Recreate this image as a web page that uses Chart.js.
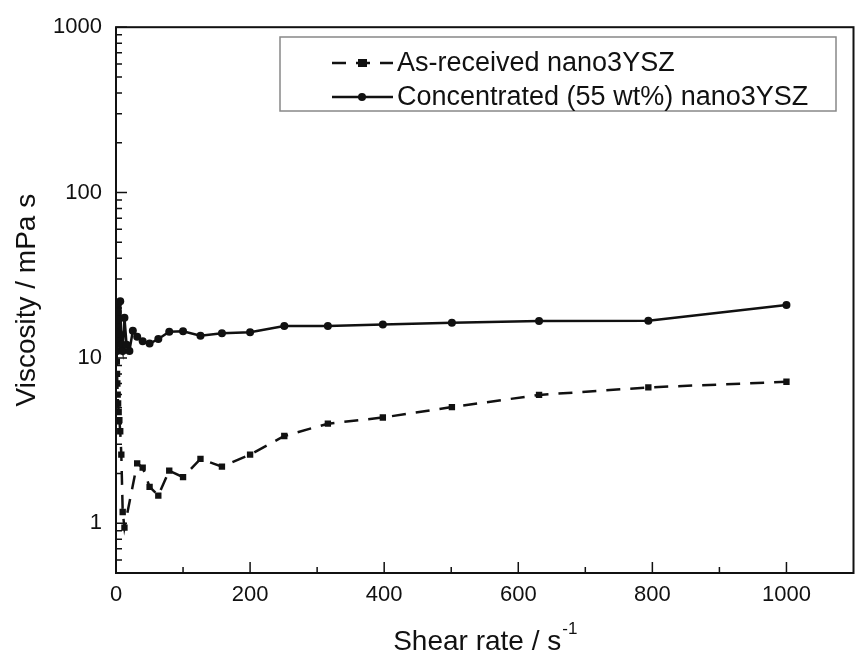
<!DOCTYPE html>
<html>
<head>
<meta charset="utf-8">
<script src="https://cdn.jsdelivr.net/npm/chart.js@4.4.1/dist/chart.umd.min.js"></script>
<style>
  html, body { margin: 0; padding: 0; background: #fff; }
  #wrap { width: 858px; height: 657px; }
</style>
</head>
<body>
<div id="wrap"><canvas id="canvas" width="858" height="657"></canvas></div>
<script>
// shear rate points (s^-1)
const shearRate = [1, 1.26, 1.58, 2, 2.51, 3.16, 3.98, 5.01, 6.31, 7.94, 10, 12.6, 15.8, 20, 25.1, 31.6,
  39.8, 50.1, 63.1, 79.4, 100, 126, 158, 200, 251, 316, 398, 501, 631, 794, 1000];

// viscosity, mPa s
const asReceived = [11, 9.5, 8, 7, 6, 5.3, 4.7, 4.2, 3.6, 2.6, 1.17, 0.94, null, null, null, 2.3,
  2.17, 1.66, 1.47, 2.08, 1.9, 2.45, 2.2, 2.6, 3.37, 4.0, 4.36, 5.04, 5.97, 6.63, 7.17];
const concentrated = [12.5, 11, 13, 16, 19, 21.5, 17, 14, 22, 12, 11, 17.5, 12, 11, 14.6, 13.4,
  12.6, 12.2, 13.0, 14.4, 14.5, 13.6, 14.1, 14.3, 15.6, 15.6, 15.9, 16.3, 16.7, 16.8, 20.9];

const seriesLabels = ['As-received nano3YSZ', 'Concentrated (55 wt%) nano3YSZ'];
const xTicks = [0, 200, 400, 600, 800, 1000];
const xMinorTicks = [100, 300, 500, 700, 900];
const yTicks = [1, 10, 100, 1000];

const FONT = "'Liberation Sans', Arial, Helvetica, sans-serif";
const INK = '#111';

function toPoints(xs, ys) {
  return xs.map((x, i) => ({ x: x, y: ys[i] }));
}

// frame, inward ticks, legend box, x title with superscript
const decorations = {
  id: 'decorations',
  afterDraw(chart) {
    const ctx = chart.ctx;
    const a = chart.chartArea;
    const xs = chart.scales.x;
    const ys = chart.scales.y;
    ctx.save();
    ctx.strokeStyle = INK;
    ctx.lineWidth = 2;
    ctx.strokeRect(a.left, a.top, a.right - a.left, a.bottom - a.top);

    ctx.lineWidth = 1.5;
    ctx.beginPath();
    xTicks.forEach(v => {
      const px = xs.getPixelForValue(v);
      ctx.moveTo(px, a.bottom); ctx.lineTo(px, a.bottom - 11);
    });
    xMinorTicks.forEach(v => {
      const px = xs.getPixelForValue(v);
      ctx.moveTo(px, a.bottom); ctx.lineTo(px, a.bottom - 6);
    });
    // log minors
    for (let d = 0.1; d <= 1000; d *= 10) {
      for (let m = 1; m <= 9; m++) {
        const v = Math.round(d * m * 1000) / 1000;
        if (v < ys.min - 1e-9 || v > ys.max + 1e-9) continue;
        const py = ys.getPixelForValue(v);
        const len = m === 1 ? 11 : 6;
        ctx.moveTo(a.left, py); ctx.lineTo(a.left + len, py);
      }
    }
    ctx.stroke();

    // legend
    const bx = 280, by = 37, bw = 556, bh = 74;
    ctx.fillStyle = '#fff';
    ctx.fillRect(bx, by, bw, bh);
    ctx.strokeStyle = '#888';
    ctx.lineWidth = 1.5;
    ctx.strokeRect(bx, by, bw, bh);
    const rows = [63, 97];
    chart.data.datasets.forEach((ds, i) => {
      const y = rows[i];
      ctx.strokeStyle = INK;
      ctx.fillStyle = INK;
      ctx.lineWidth = 2.5;
      ctx.setLineDash(ds.borderDash || []);
      ctx.beginPath();
      ctx.moveTo(332, y); ctx.lineTo(393, y);
      ctx.stroke();
      ctx.setLineDash([]);
      if (ds.pointStyle === 'rect') {
        ctx.fillRect(358, y - 4, 9, 8);
      } else {
        ctx.beginPath(); ctx.arc(362, y, 4, 0, Math.PI * 2); ctx.fill();
      }
      ctx.font = '27px ' + FONT;
      ctx.textBaseline = 'middle';
      ctx.textAlign = 'left';
      ctx.fillText(ds.label, 397, y + 1);
    });

    // x title
    const main = 'Shear rate / s';
    const sup = '-1';
    ctx.fillStyle = INK;
    ctx.textBaseline = 'alphabetic';
    ctx.font = '28px ' + FONT;
    const w1 = ctx.measureText(main).width;
    ctx.font = '17px ' + FONT;
    const w2 = ctx.measureText(sup).width;
    const cx = (a.left + a.right) / 2;
    const x0 = cx - (w1 + w2) / 2;
    ctx.font = '28px ' + FONT;
    ctx.fillText(main, x0, 650);
    ctx.font = '17px ' + FONT;
    ctx.fillText(sup, x0 + w1 + 1, 634);
    ctx.restore();
  }
};

const canvas = document.getElementById('canvas');
const ctx = canvas.getContext('2d');

new Chart(ctx, {
  type: 'scatter',
  data: {
    datasets: [{
      label: seriesLabels[0],
      data: toPoints(shearRate, asReceived),
      showLine: true,
      spanGaps: true,
      borderColor: INK,
      backgroundColor: INK,
      borderWidth: 2.5,
      borderDash: [14, 10],
      pointStyle: 'rect',
      pointRadius: 4.5,
      pointBorderWidth: 0
    }, {
      label: seriesLabels[1],
      data: toPoints(shearRate, concentrated),
      showLine: true,
      borderColor: INK,
      backgroundColor: INK,
      borderWidth: 2.5,
      pointStyle: 'circle',
      pointRadius: 4,
      pointBorderWidth: 0
    }]
  },
  options: {
    responsive: false,
    animation: false,
    layout: { padding: { top: 18, right: 2, left: 0, bottom: 0 } },
    plugins: {
      legend: { display: false },
      tooltip: { enabled: false }
    },
    scales: {
      x: {
        type: 'linear',
        min: 0,
        max: 1100,
        grid: { display: false, drawTicks: false },
        border: { display: false },
        afterBuildTicks: s => { s.ticks = xTicks.map(v => ({ value: v })); },
        afterFit: s => { s.height = 84; },
        ticks: {
          padding: 9,
          color: INK,
          font: { family: FONT, size: 22 },
          maxRotation: 0,
          callback: v => String(v)
        }
      },
      y: {
        type: 'logarithmic',
        min: 0.5,
        max: 1000,
        grid: { display: false, drawTicks: false },
        border: { display: false },
        afterBuildTicks: s => { s.ticks = yTicks.map(v => ({ value: v })); },
        afterFit: s => { s.width = 116; },
        title: {
          display: true,
          text: 'Viscosity / mPa s',
          color: INK,
          font: { family: FONT, size: 28 },
          padding: { top: 10, bottom: 0 }
        },
        ticks: {
          padding: 14,
          color: INK,
          font: { family: FONT, size: 22 },
          callback: v => String(v)
        }
      }
    }
  },
  plugins: [decorations]
});
</script>
</body>
</html>
